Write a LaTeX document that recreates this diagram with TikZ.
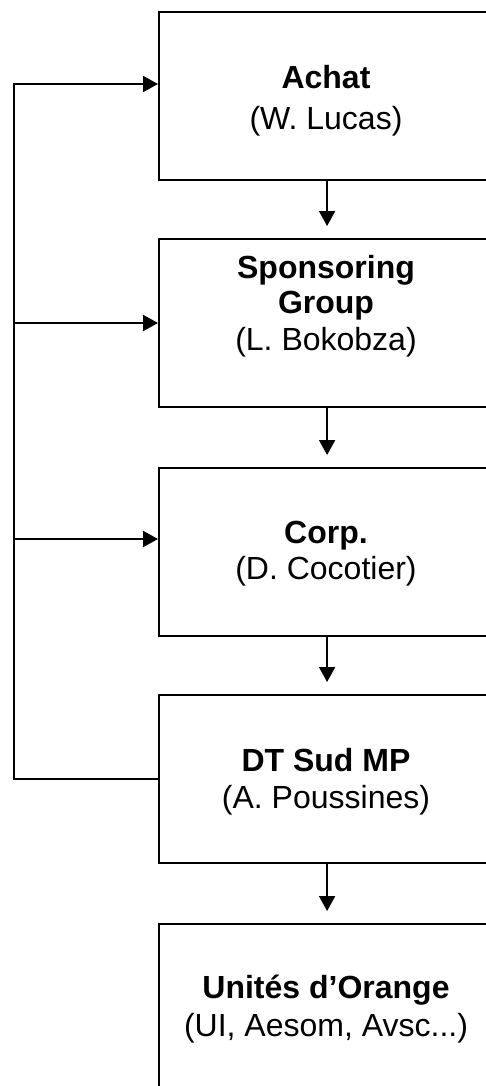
\documentclass[tikz,border=0pt]{standalone}
\usepackage{fontspec}
\setmainfont{Liberation Sans}
\usetikzlibrary{arrows.meta}
\tikzset{
  orgbox/.style={draw=black, line width=2.2pt, rectangle, minimum width=336pt, minimum height=168pt, anchor=north west, inner sep=0pt},
  lbl/.style={anchor=base, inner sep=0pt, font=\fontsize{32}{36}\selectfont},
  blbl/.style={lbl, font=\fontsize{32}{36}\selectfont\bfseries},
  conn/.style={draw=black, line width=2pt},
  arr/.style={conn, -{Triangle[length=15pt, width=16pt]}}
}
\begin{document}
\begin{tikzpicture}[x=1pt, y=-1pt]
\useasboundingbox (0,0) rectangle (486,1086);
\clip (0,0) rectangle (486,1086);
% boxes
\node[orgbox] (b1) at (158,11) {};
\node[orgbox] (b2) at (158,238) {};
\node[orgbox] (b3) at (158,467) {};
\node[orgbox] (b4) at (158,694) {};
\node[orgbox] (b5) at (158,923) {};
% texts
\node[blbl] (t1a) at (326,88.3) {Achat};
\node[lbl]  (t1b) at (326,130) {(W. Lucas)};
\node[blbl] (t2a) at (326,278.3) {Sponsoring};
\node[blbl] (t2b) at (326,313.3) {Group};
\node[lbl]  (t2c) at (326,350) {(L. Bokobza)};
\node[blbl] (t3a) at (326,543.3) {Corp.};
\node[lbl]  (t3b) at (326,579.5) {(D. Cocotier)};
\node[blbl] (t4a) at (326,771.7) {DT Sud MP};
\node[lbl]  (t4b) at (326,808) {(A. Poussines)};
\node[blbl] (t5a) at (326,998) {Unités d’Orange};
\node[lbl]  (t5b) at (326,1036.7) {(UI, Aesom, Avsc...)};
% vertical arrows
\draw[arr] (b1.south) -- ([yshift=12pt]b2.north);
\draw[arr] (b2.south) -- ([yshift=12pt]b3.north);
\draw[arr] (b3.south) -- ([yshift=12pt]b4.north);
\draw[arr] (b4.south) -- ([yshift=12pt]b5.north);
% feedback loop
\coordinate (c1) at (14,84);
\coordinate (c2) at (14,323);
\coordinate (c3) at (14,539);
\coordinate (c4) at (14,779);
\draw[arr, line join=miter] (b4.west |- c4) -- (c4) -- (c1) -- (c1 -| b1.west);
\draw[arr] (c2) -- (c2 -| b2.west);
\draw[arr] (c3) -- (c3 -| b3.west);
\end{tikzpicture}
\end{document}
